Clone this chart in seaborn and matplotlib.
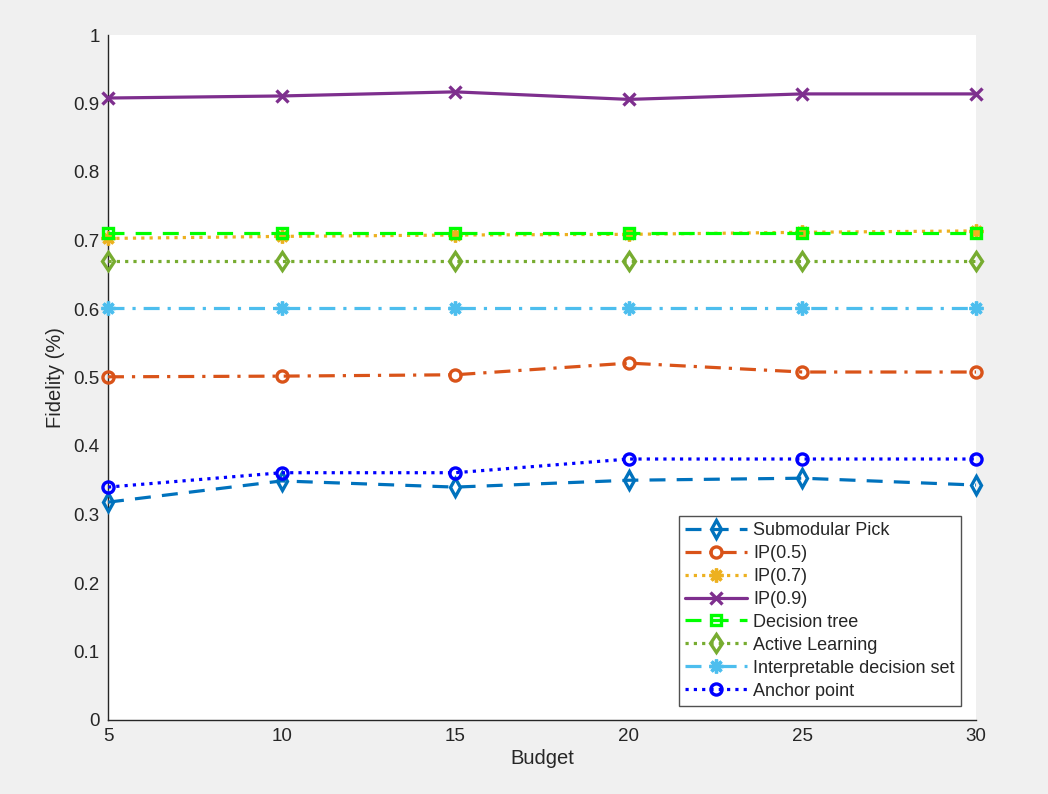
import matplotlib
matplotlib.use("Agg")
import matplotlib.pyplot as plt
import seaborn as sns
import pandas as pd
from matplotlib.ticker import FuncFormatter

budget = [5, 10, 15, 20, 25, 30]
submodular_pick = [0.318, 0.349, 0.340, 0.350, 0.353, 0.343]
ip_05 = [0.501, 0.502, 0.504, 0.521, 0.508, 0.508]
ip_07 = [0.703, 0.706, 0.708, 0.709, 0.712, 0.714]
ip_09 = [0.908, 0.911, 0.917, 0.906, 0.914, 0.914]
decision_tree = [0.711, 0.711, 0.711, 0.711, 0.711, 0.711]
active_learning = [0.670, 0.670, 0.670, 0.670, 0.670, 0.670]
interp_decision_set = [0.601, 0.601, 0.601, 0.601, 0.601, 0.601]
anchor_point = [0.340, 0.361, 0.361, 0.381, 0.381, 0.381]

names = ["Submodular Pick", "IP(0.5)", "IP(0.7)", "IP(0.9)", "Decision tree",
         "Active Learning", "Interpretable decision set", "Anchor point"]
series = [submodular_pick, ip_05, ip_07, ip_09, decision_tree,
          active_learning, interp_decision_set, anchor_point]
colors = ["#0072BD", "#D95319", "#EDB120", "#7E2F8E", "#00FF00",
          "#77AC30", "#4DBEEE", "#0000FF"]
DASH = (0, (5, 3.5))
DASHDOT = (0, (5, 2.5, 1, 2.5))
DOT = (0, (1, 1.6))
styles = [DASH, DASHDOT, DOT, "-", DASH, DOT, DASHDOT, DOT]
ASTER = (8, 2, 0)
markers = ["d", "o", ASTER, "x", "s", "d", ASTER, "o"]
msizes = [9, 8, 10, 8, 7, 9.5, 10, 8]

sns.set_style("white")
plt.rcParams['font.family'] = ['Liberation Sans', 'DejaVu Sans']

fig = plt.figure(figsize=(10.48, 7.94), dpi=100, facecolor="#f0f0f0")
ax = fig.add_axes([108/1048, 74/794, 868/1048, 685/794])
ax.set_facecolor("white")

for name, vals, c, ls, mk, ms in zip(names, series, colors, styles, markers, msizes):
    df = pd.DataFrame({"Budget": budget, "Fidelity": vals})
    sns.lineplot(data=df, x="Budget", y="Fidelity", ax=ax, color=c, linestyle=ls,
                 marker=mk, markersize=ms, markerfacecolor="none",
                 markeredgecolor=c, markeredgewidth=2.4, linewidth=2.3,
                 label=name, clip_on=False, zorder=3)

ax.set_xlim(5, 30)
ax.set_ylim(0, 1)
ax.set_xticks(budget)
ax.set_yticks([i / 10 for i in range(11)])
ax.yaxis.set_major_formatter(FuncFormatter(lambda v, p: f"{v:g}"))
ax.tick_params(direction="in", length=6.5, width=1, colors="#262626",
               labelsize=13.5, labelcolor="#262626", pad=6)
for s in ["top", "right"]:
    ax.spines[s].set_visible(False)
for s in ["left", "bottom"]:
    ax.spines[s].set_color("#262626")
    ax.spines[s].set_linewidth(1)
ax.set_xlabel("Budget", fontsize=14.5, color="#262626", labelpad=3)
ax.set_ylabel("Fidelity (%)", fontsize=14.5, color="#262626", labelpad=6)

leg = ax.legend(loc="lower right", bbox_to_anchor=(1 - 15/868, 14/685), fontsize=13,
                frameon=True, fancybox=False, edgecolor="#262626",
                handlelength=3.4, labelspacing=0.33, borderpad=0.35,
                handletextpad=0.35, borderaxespad=0)
leg.get_frame().set_linewidth(1)

fig.savefig("out.png", dpi=100, facecolor=fig.get_facecolor())
